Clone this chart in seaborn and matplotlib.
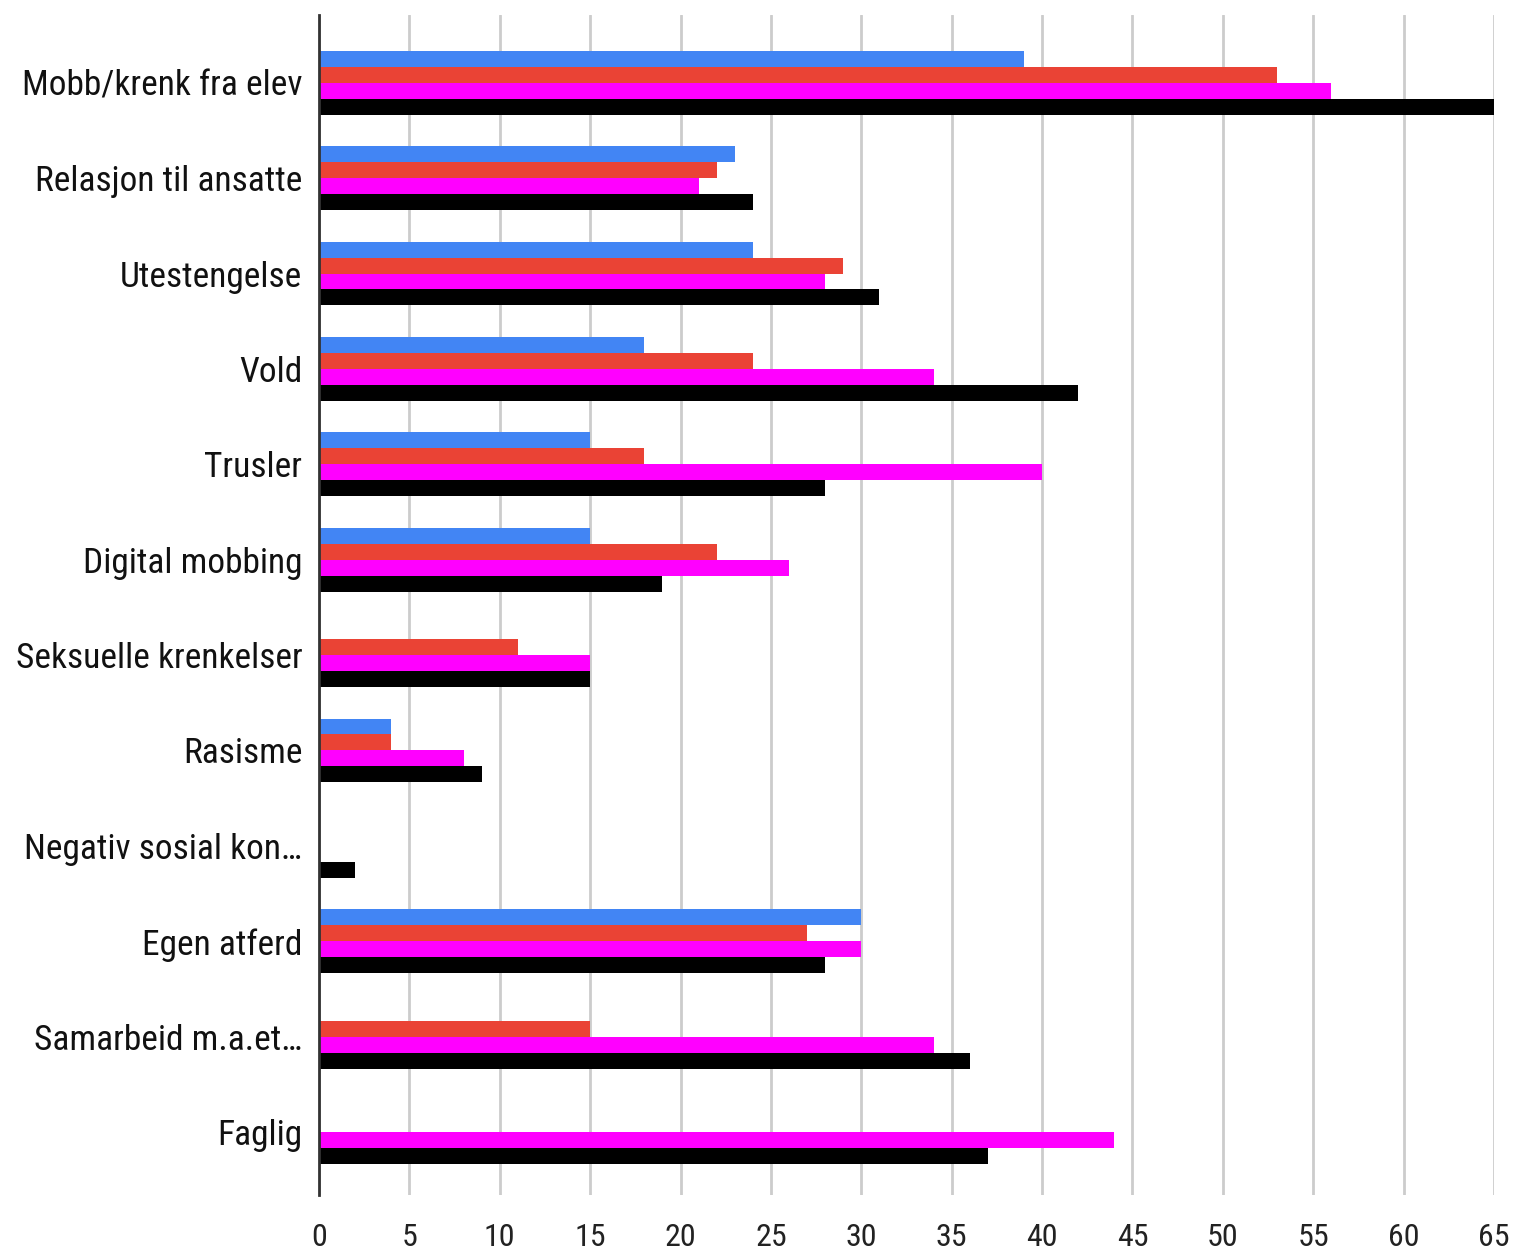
import pandas as pd
import matplotlib.pyplot as plt
import seaborn as sns

categories = [
    "Mobb/krenk fra elev",
    "Relasjon til ansatte",
    "Utestengelse",
    "Vold",
    "Trusler",
    "Digital mobbing",
    "Seksuelle krenkelser",
    "Rasisme",
    "Negativ sosial kon…",
    "Egen atferd",
    "Samarbeid m.a.et…",
    "Faglig",
]
series_names = ["Serie 1", "Serie 2", "Serie 3", "Serie 4"]
serie_1 = [39, 23, 24, 18, 15, 15, 0, 4, 0, 30, 0, 0]
serie_2 = [53, 22, 29, 24, 18, 22, 11, 4, 0, 27, 15, 0]
serie_3 = [56, 21, 28, 34, 40, 26, 15, 8, 0, 30, 34, 44]
serie_4 = [65, 24, 31, 42, 28, 19, 15, 9, 2, 28, 36, 37]
colors = ["#4285F4", "#EA4335", "#FF00FF", "#000000"]
x_ticks = list(range(0, 70, 5))

rows = []
for name, vals in zip(series_names, [serie_1, serie_2, serie_3, serie_4]):
    for cat, v in zip(categories, vals):
        rows.append({"kategori": cat, "serie": name, "antall": v})
df = pd.DataFrame(rows)

sns.set_style("white")
plt.rcParams["font.family"] = ["Roboto Condensed", "Liberation Sans Narrow", "DejaVu Sans"]

fig = plt.figure(figsize=(15.17, 12.59), dpi=100)
ax = fig.add_axes([319 / 1517, 1 - 1195 / 1259, (1494 - 319) / 1517, (1195 - 15) / 1259])

sns.barplot(data=df, y="kategori", x="antall", hue="serie", order=categories,
            hue_order=series_names, palette=colors, saturation=1, orient="h",
            width=0.67, linewidth=0, legend=False, ax=ax, zorder=3)

ax.set_xlim(0, 65)
ax.set_ylim(11.66, -0.71)
ax.set_xticks(x_ticks)
ax.set_xticklabels([str(t) for t in x_ticks])
ax.xaxis.grid(True, color="#cccccc", linewidth=2, zorder=0)
ax.set_axisbelow(True)
ax.set_xlabel("")
ax.set_ylabel("")
for side in ["top", "right", "bottom"]:
    ax.spines[side].set_visible(False)
ax.spines["left"].set_color("#333333")
ax.spines["left"].set_linewidth(2)
ax.spines["left"].set_zorder(4)
ax.tick_params(axis="y", length=0, pad=12, labelsize=25.5, labelcolor="#111111")
ax.tick_params(axis="x", length=0, pad=20, labelsize=23, labelcolor="#222222")

fig.savefig("out.png", dpi=100)
